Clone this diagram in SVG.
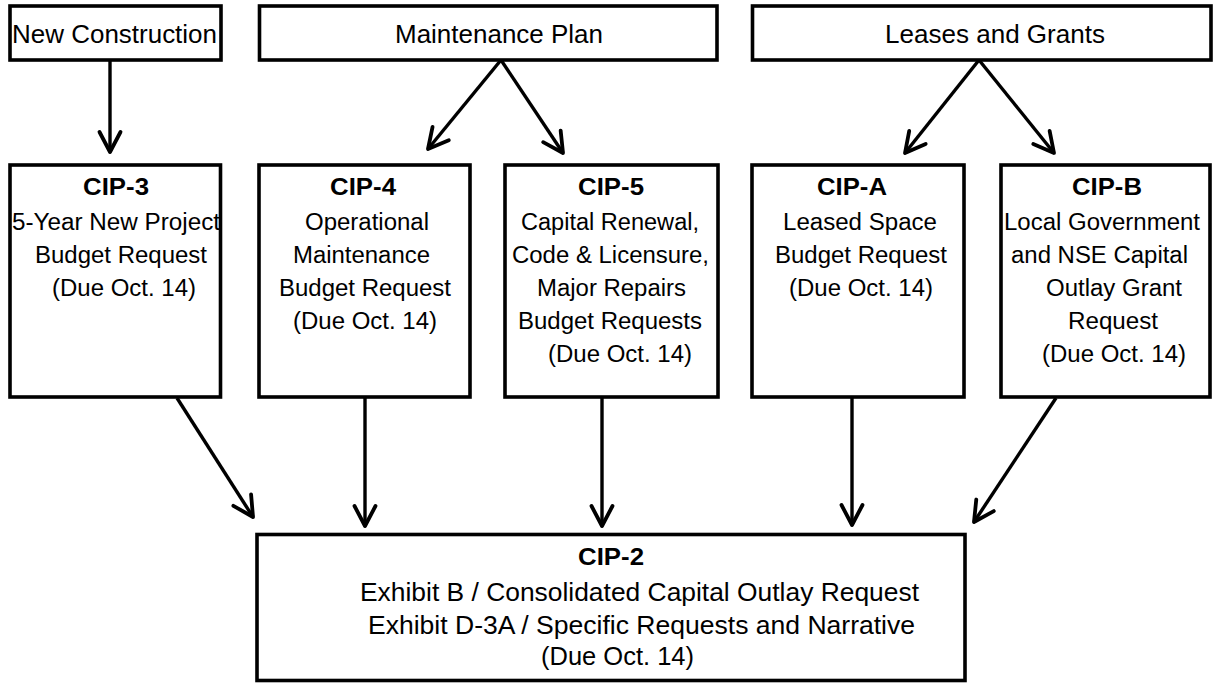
<svg xmlns="http://www.w3.org/2000/svg" width="1214" height="684" viewBox="0 0 1214 684">
<style>
.box{fill:#fff;stroke:#000;stroke-width:3.6}
.t{font-family:"Liberation Sans",Arial,sans-serif;fill:#000}
.top{font-size:25.5px}
.body{font-size:23.5px}
.ttl{font-size:24px;font-weight:bold}
.big{font-size:25px}
.c{stroke:#000;stroke-width:3.4;fill:none}
</style>
<defs>
<marker id="ah" markerUnits="userSpaceOnUse" viewBox="-24 -14 28 28" markerWidth="28" markerHeight="28" refX="0" refY="0" orient="auto">
<path d="M-20,-10.5 L0,0 L-20,10.5" fill="none" stroke="#000" stroke-width="3.8" stroke-linejoin="round" stroke-linecap="round"/>
</marker>
</defs>
<rect width="1214" height="684" fill="#fff"/>

<g id="connectors">
<line class="c" x1="110" y1="61" x2="110" y2="152" marker-end="url(#ah)"/>
<line class="c" x1="501" y1="60" x2="428" y2="149" marker-end="url(#ah)"/>
<line class="c" x1="501" y1="60" x2="563" y2="153" marker-end="url(#ah)"/>
<line class="c" x1="979" y1="60" x2="905" y2="153" marker-end="url(#ah)"/>
<line class="c" x1="979" y1="60" x2="1054" y2="153" marker-end="url(#ah)"/>
<line class="c" x1="177" y1="398" x2="253" y2="517" marker-end="url(#ah)"/>
<line class="c" x1="365" y1="398" x2="365" y2="526" marker-end="url(#ah)"/>
<line class="c" x1="602" y1="398" x2="602" y2="526" marker-end="url(#ah)"/>
<line class="c" x1="852" y1="394" x2="852" y2="525" marker-end="url(#ah)"/>
<line class="c" x1="1056" y1="398" x2="974" y2="522" marker-end="url(#ah)"/>
</g>

<g id="new-construction">
<rect class="box" x="10" y="6" width="211" height="54"/>
<text class="t top" x="12" y="43" textLength="205" lengthAdjust="spacingAndGlyphs">New Construction</text>
</g>
<g id="maintenance-plan">
<rect class="box" x="259.5" y="6" width="457.5" height="54"/>
<text class="t top" x="395" y="43" textLength="208" lengthAdjust="spacingAndGlyphs">Maintenance Plan</text>
</g>
<g id="leases-grants">
<rect class="box" x="752.5" y="6" width="458.5" height="54"/>
<text class="t top" x="885" y="43" textLength="220" lengthAdjust="spacingAndGlyphs">Leases and Grants</text>
</g>

<g id="cip3">
<rect class="box" x="10" y="165" width="210.5" height="232"/>
<text class="t ttl" x="116" y="195" text-anchor="middle" textLength="66" lengthAdjust="spacingAndGlyphs">CIP-3</text>
<text class="t body" x="12" y="230" textLength="208" lengthAdjust="spacingAndGlyphs">5-Year New Project</text>
<text class="t body" x="35" y="263" textLength="172" lengthAdjust="spacingAndGlyphs">Budget Request</text>
<text class="t body" x="52" y="296" textLength="144" lengthAdjust="spacingAndGlyphs">(Due Oct. 14)</text>
</g>
<g id="cip4">
<rect class="box" x="259" y="165" width="211" height="232"/>
<text class="t ttl" x="363" y="195" text-anchor="middle" textLength="66" lengthAdjust="spacingAndGlyphs">CIP-4</text>
<text class="t body" x="305" y="230" textLength="124" lengthAdjust="spacingAndGlyphs">Operational</text>
<text class="t body" x="293" y="263" textLength="137" lengthAdjust="spacingAndGlyphs">Maintenance</text>
<text class="t body" x="279" y="296" textLength="172" lengthAdjust="spacingAndGlyphs">Budget Request</text>
<text class="t body" x="293" y="329" textLength="144" lengthAdjust="spacingAndGlyphs">(Due Oct. 14)</text>
</g>
<g id="cip5">
<rect class="box" x="505" y="165" width="213" height="232"/>
<text class="t ttl" x="611" y="195" text-anchor="middle" textLength="66" lengthAdjust="spacingAndGlyphs">CIP-5</text>
<text class="t body" x="521" y="230" textLength="178" lengthAdjust="spacingAndGlyphs">Capital Renewal,</text>
<text class="t body" x="512" y="263" textLength="197" lengthAdjust="spacingAndGlyphs">Code &amp; Licensure,</text>
<text class="t body" x="537" y="296" textLength="149" lengthAdjust="spacingAndGlyphs">Major Repairs</text>
<text class="t body" x="518" y="329" textLength="184" lengthAdjust="spacingAndGlyphs">Budget Requests</text>
<text class="t body" x="548" y="362" textLength="144" lengthAdjust="spacingAndGlyphs">(Due Oct. 14)</text>
</g>
<g id="cipA">
<rect class="box" x="752" y="165" width="212" height="232"/>
<text class="t ttl" x="852" y="195" text-anchor="middle" textLength="70" lengthAdjust="spacingAndGlyphs">CIP-A</text>
<text class="t body" x="783" y="230" textLength="154" lengthAdjust="spacingAndGlyphs">Leased Space</text>
<text class="t body" x="775" y="263" textLength="172" lengthAdjust="spacingAndGlyphs">Budget Request</text>
<text class="t body" x="789" y="296" textLength="144" lengthAdjust="spacingAndGlyphs">(Due Oct. 14)</text>
</g>
<g id="cipB">
<rect class="box" x="1001" y="165" width="209" height="232"/>
<text class="t ttl" x="1107" y="195" text-anchor="middle" textLength="70" lengthAdjust="spacingAndGlyphs">CIP-B</text>
<text class="t body" x="1004" y="230" textLength="196" lengthAdjust="spacingAndGlyphs">Local Government</text>
<text class="t body" x="1011" y="263" textLength="177" lengthAdjust="spacingAndGlyphs">and NSE Capital</text>
<text class="t body" x="1046" y="296" textLength="136" lengthAdjust="spacingAndGlyphs">Outlay Grant</text>
<text class="t body" x="1068" y="329" textLength="90" lengthAdjust="spacingAndGlyphs">Request</text>
<text class="t body" x="1042" y="362" textLength="144" lengthAdjust="spacingAndGlyphs">(Due Oct. 14)</text>
</g>
<g id="cip2">
<rect class="box" x="257" y="534.5" width="708" height="146"/>
<text class="t ttl" x="611" y="565" text-anchor="middle" textLength="66" lengthAdjust="spacingAndGlyphs">CIP-2</text>
<text class="t big" x="360" y="601" textLength="559" lengthAdjust="spacingAndGlyphs">Exhibit B / Consolidated Capital Outlay Request</text>
<text class="t big" x="368" y="634" textLength="547" lengthAdjust="spacingAndGlyphs">Exhibit D-3A / Specific Requests and Narrative</text>
<text class="t big" x="541" y="665" textLength="153" lengthAdjust="spacingAndGlyphs">(Due Oct. 14)</text>
</g>
</svg>
